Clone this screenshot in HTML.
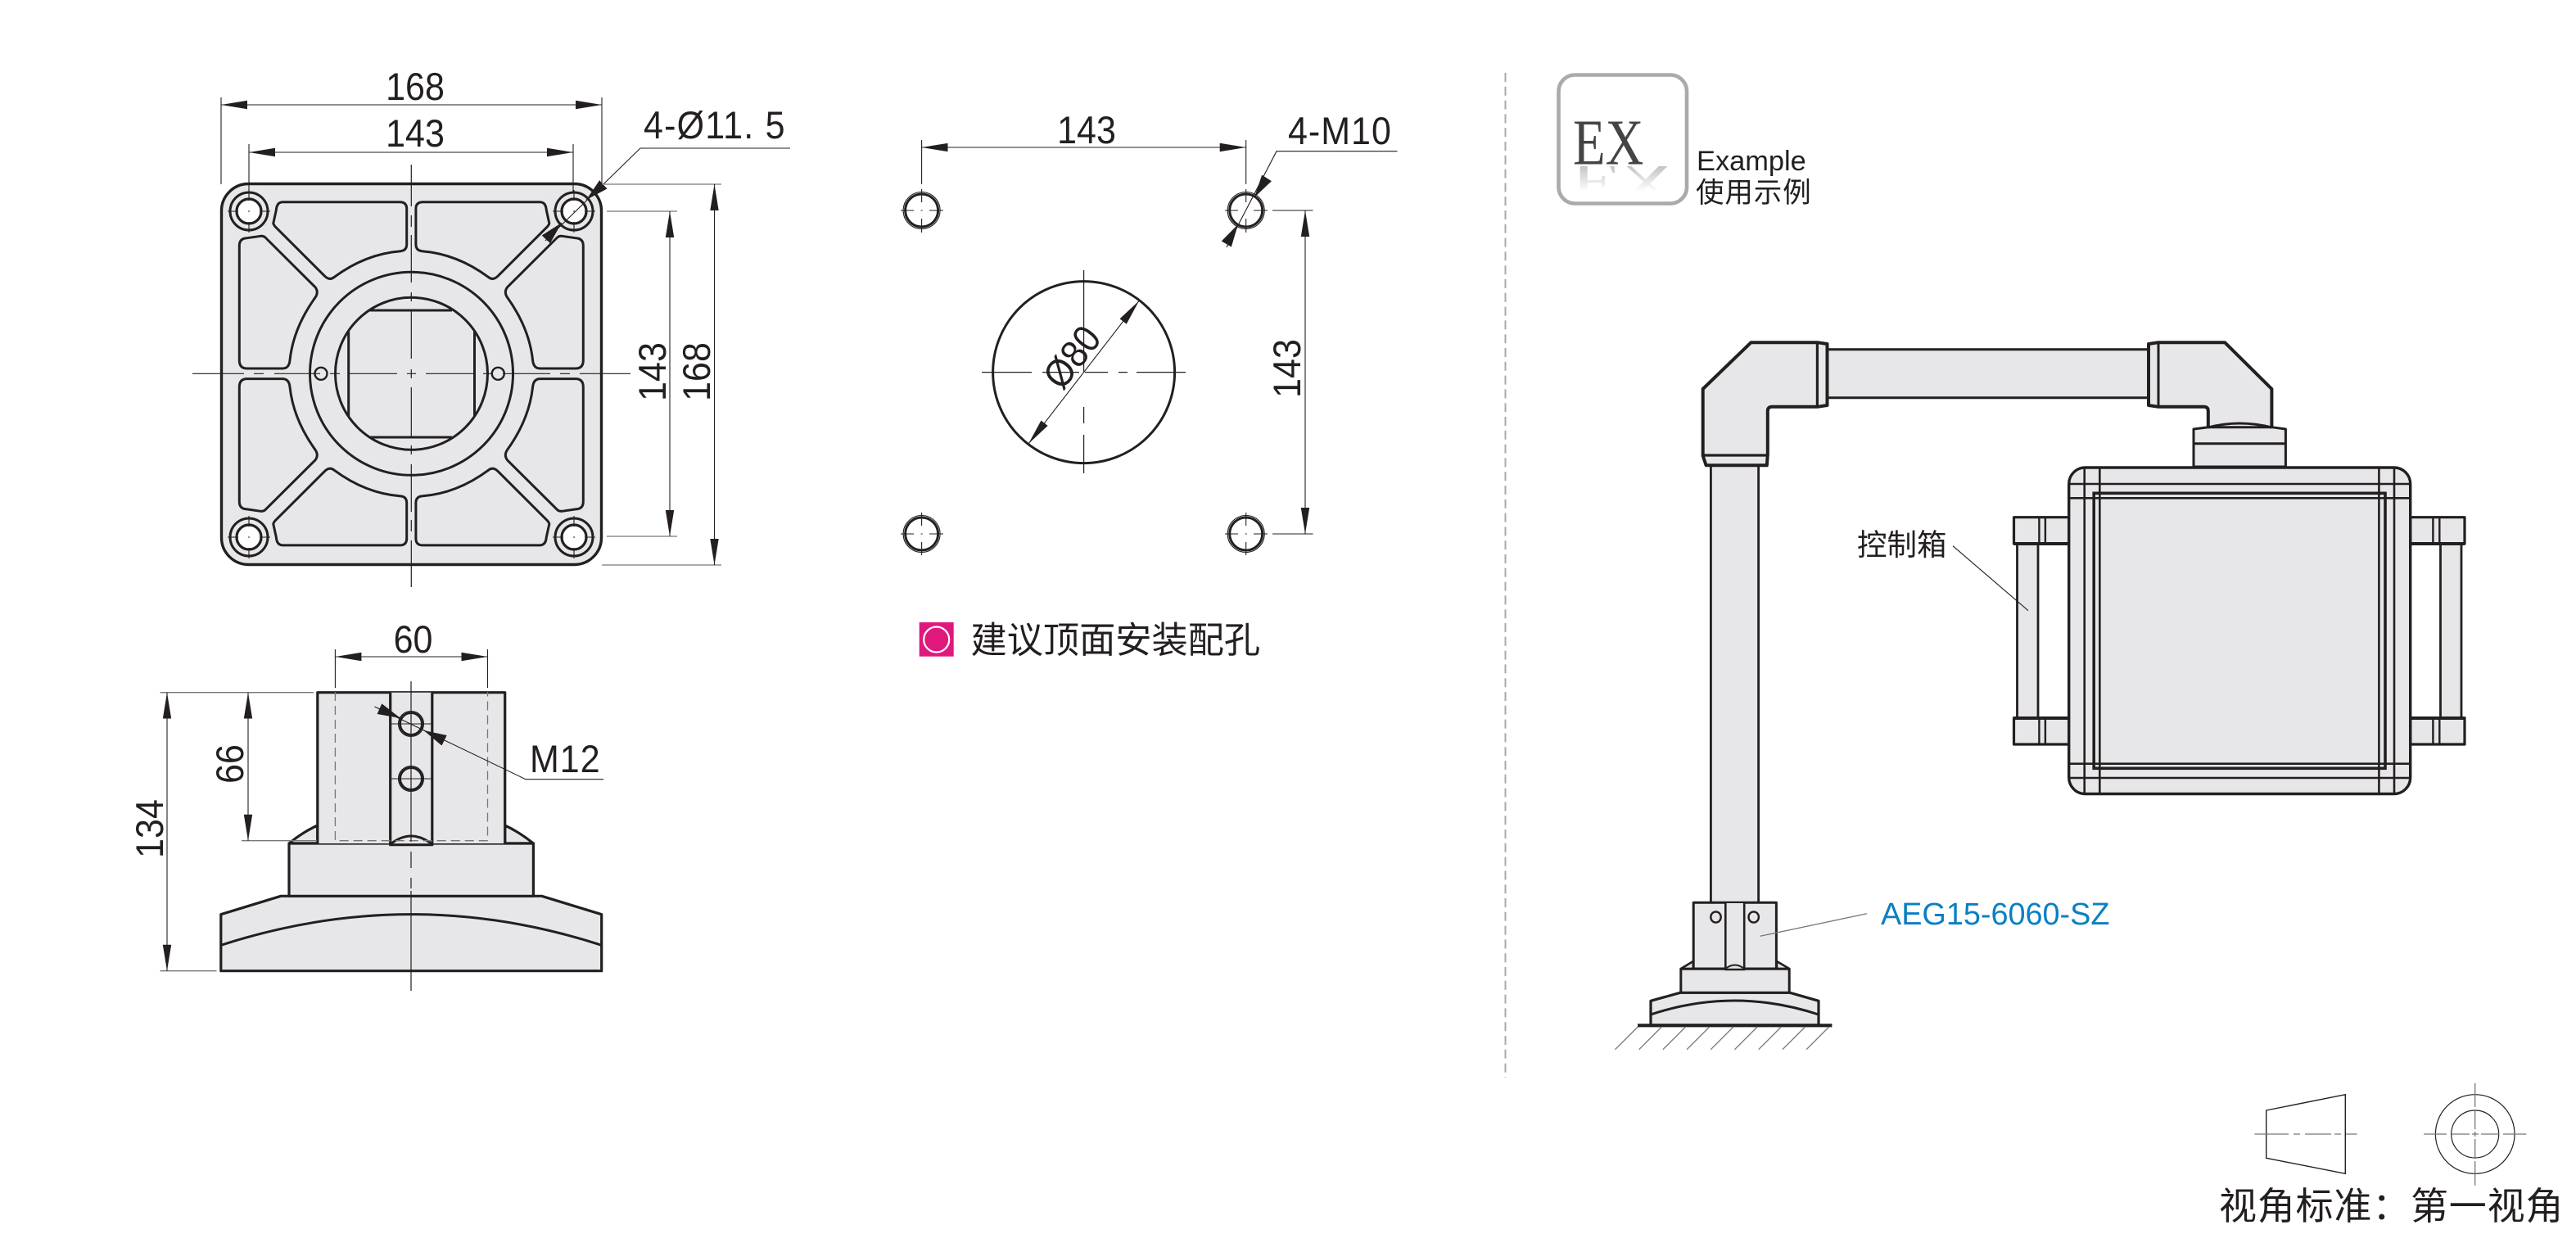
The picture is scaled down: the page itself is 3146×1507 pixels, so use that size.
<!DOCTYPE html>
<html><head><meta charset="utf-8"><style>
html,body{margin:0;padding:0;background:#fff}
svg{display:block}
text{font-family:"Liberation Sans","Noto Sans CJK SC",sans-serif;fill:#231f20}
.k{fill:none;stroke:#231f20;stroke-width:3;stroke-linejoin:round}
.f{fill:#e7e7e9;stroke:#231f20;stroke-width:3.2;stroke-linejoin:round}
.n{fill:none;stroke:#231f20;stroke-width:1.1}
.g{fill:none;stroke:#777;stroke-width:1.3}
.d{fill:none;stroke:#231f20;stroke-width:1.2}
.t{font-size:43px}
</style></head><body>
<svg xmlns="http://www.w3.org/2000/svg" width="3146" height="1507" viewBox="0 0 3146 1507">
<defs>
<marker id="a" markerUnits="userSpaceOnUse" markerWidth="32" markerHeight="12" viewBox="0 0 32 12" refX="32" refY="6" orient="auto-start-reverse"><polygon points="0,0.8 32,6 0,11.2" fill="#231f20"/></marker>
<marker id="b" markerUnits="userSpaceOnUse" markerWidth="28" markerHeight="16" viewBox="0 0 28 16" refX="28" refY="8" orient="auto-start-reverse"><polygon points="0,1 28,8 0,15" fill="#231f20"/></marker>
<linearGradient id="fade" x1="0" y1="0" x2="0" y2="1"><stop offset="0" stop-color="#fff" stop-opacity="0"/><stop offset="1" stop-color="#fff" stop-opacity="1"/></linearGradient>
<g id="pk">
<path class="k" d="M345,246.7H488.3Q496.7,246.7 496.7,255V298.3Q496.7,306 489.3,306.7C460,309 433,320 408.3,338.3Q402.7,343 396.7,337.3L336,276.7Q333,273 334,271.7L337.3,256.7Q338,247 345,246.7Z"/>
<path class="k" d="M301.7,290.7L318.3,288.3Q322,288 324,290L385,350.7Q389.5,356.7 385,363.3C368,387 357,412 354,440Q353,450 345,450H301.7Q292.3,450 292.3,440V300Q292.3,291 301.7,290.7Z"/>
</g>
</defs>

<!-- TOP VIEW PLATE -->
<rect class="f" x="270.5" y="224.5" width="464" height="465" rx="33" style="stroke-width:3.4"/>
<use href="#pk"/>
<use href="#pk" transform="translate(1004.6,0) scale(-1,1)"/>
<use href="#pk" transform="translate(0,912.6) scale(1,-1)"/>
<use href="#pk" transform="translate(1004.6,912.6) scale(-1,-1)"/>
<circle class="k" cx="502.5" cy="456.3" r="124"/>
<circle class="k" cx="502.5" cy="456.3" r="93"/>
<path class="k" d="M425.7,405V508M579.5,405V508M452,379H552M452,534H552"/>
<circle class="k" cx="392" cy="456.3" r="7.5" style="stroke-width:2.4"/>
<circle class="k" cx="608.3" cy="456.3" r="7.5" style="stroke-width:2.4"/>
<g>
<circle class="k" cx="304" cy="258" r="23"/><circle cx="304" cy="258" r="15" fill="#fff" stroke="#231f20" stroke-width="3.2"/>
<circle class="k" cx="701" cy="258" r="23"/><circle cx="701" cy="258" r="15" fill="#fff" stroke="#231f20" stroke-width="3.2"/>
<circle class="k" cx="304" cy="656" r="23"/><circle cx="304" cy="656" r="15" fill="#fff" stroke="#231f20" stroke-width="3.2"/>
<circle class="k" cx="701" cy="656" r="23"/><circle cx="701" cy="656" r="15" fill="#fff" stroke="#231f20" stroke-width="3.2"/>
</g>
<path class="n" d="M278,258H291M317,258H330M303,258H305M304,232V245M304,271V284
M675,258H688M714,258H727M700,258H702M701,232V245M701,271V284
M278,656H291M317,656H330M303,656H305M304,630V643M304,669V682
M675,656H688M714,656H727M700,656H702M701,630V643M701,669V682"/>
<!-- centre lines -->
<path class="d" d="M235,456.3H298M310,456.3H322M335,456.3H391M403,456.3H415M427,456.3H485M497,456.3H508M520,456.3H578M590,456.3H602M614,456.3H672M684,456.3H696M708,456.3H770
M502.3,201V252M502.3,263V277M502.3,287V345M502.3,357V368M502.3,378V438M502.3,451V462M502.3,473V533M502.3,544V555M502.3,567V625M502.3,635V649M502.3,660V717"/>
<!-- dims top view -->
<path class="n" d="M270,119V225M735,119V225M304,176V235M700,176V235"/>
<line class="n" x1="270" y1="128" x2="735" y2="128" marker-start="url(#a)" marker-end="url(#a)"/>
<line class="n" x1="304" y1="186" x2="700" y2="186" marker-start="url(#a)" marker-end="url(#a)"/>
<text class="t" transform="translate(507,122) scale(1,1.1)" text-anchor="middle">168</text>
<text class="t" transform="translate(507,179) scale(1,1.1)" text-anchor="middle">143</text>
<text class="t" transform="translate(786,169) scale(1,1.1)" letter-spacing="1.2">4-Ø11. 5</text>
<path class="n" d="M965,181H782L666,294"/>
<line x1="735" y1="227" x2="716" y2="244" class="n" marker-end="url(#b)"/>
<line x1="669" y1="290" x2="686" y2="272" class="n" marker-end="url(#b)"/>
<path class="g" d="M735,225H881M741,258H827M741,655H827M735,690H881"/>
<line class="n" x1="818" y1="258" x2="818" y2="655" marker-start="url(#a)" marker-end="url(#a)"/>
<line class="n" x1="872.5" y1="225" x2="872.5" y2="690" marker-start="url(#a)" marker-end="url(#a)"/>
<text class="t" transform="translate(813,454) rotate(-90) scale(1,1.1)" text-anchor="middle">143</text>
<text class="t" transform="translate(867,454) rotate(-90) scale(1,1.1)" text-anchor="middle">168</text>

<!-- FRONT VIEW -->
<path class="f" d="M353,1030Q370,1016 387.8,1008V1030ZM651.4,1030Q634,1016 616.7,1008V1030Z"/>
<path class="f" d="M343,1094.3L269.8,1116.7V1185.7H734.7V1116.7L661.6,1094.3Z"/>
<path class="k" d="M269.8,1154.3Q502,1079 734.7,1154.3"/>
<rect class="f" x="353" y="1030" width="298.4" height="64.3"/>
<path class="f" d="M387.8,1030V845.7H616.7V1030"/>
<path class="f" d="M476.7,845.7V1031.7H527.8V845.7"/>
<path class="k" d="M476.7,1031Q502,1011 527.8,1031"/>
<path class="n" d="M476.7,884H527.8M476.7,951H527.8"/>
<circle class="k" cx="502" cy="884" r="13.5"/><circle class="n" cx="502" cy="884" r="15.5"/>
<circle class="k" cx="502" cy="951" r="13.5"/><circle class="n" cx="502" cy="951" r="15.5"/>
<path class="g" stroke-dasharray="11,6" d="M409.4,845V1026.7H595.5V845"/>
<path class="d" d="M502,832V1028M502,1040V1060M502,1072V1085M502,1088V1210"/>
<path class="n" d="M409.4,793V840M595.5,793V840"/>
<line class="n" x1="409.4" y1="802" x2="595.5" y2="802" marker-start="url(#a)" marker-end="url(#a)"/>
<text class="t" transform="translate(504.5,797) scale(1,1.1)" text-anchor="middle">60</text>
<path class="g" d="M195.5,845.7H383M295,1026.7H387M195.5,1185.7H264.5"/>
<line class="n" x1="303" y1="845.7" x2="303" y2="1026.7" marker-start="url(#a)" marker-end="url(#a)"/>
<line class="n" x1="204" y1="845.7" x2="204" y2="1185.7" marker-start="url(#a)" marker-end="url(#a)"/>
<text class="t" transform="translate(297,933) rotate(-90) scale(1,1.1)" text-anchor="middle">66</text>
<text class="t" transform="translate(199,1012) rotate(-90) scale(1,1.1)" text-anchor="middle">134</text>
<path class="n" d="M737,951.7H642L457.5,863"/>
<line class="n" x1="462" y1="865" x2="489" y2="877" marker-end="url(#b)"/>
<line class="n" x1="542" y1="904" x2="517.5" y2="892" marker-end="url(#b)"/>
<text class="t" transform="translate(647,943) scale(1,1.1)" letter-spacing="1">M12</text>

<!-- MOUNTING HOLES -->
<g>
<circle class="k" cx="1125.6" cy="257" r="20"/><circle class="n" cx="1125.6" cy="257" r="22.5"/>
<circle class="k" cx="1521.7" cy="257" r="20"/><circle class="n" cx="1521.7" cy="257" r="22.5"/>
<circle class="k" cx="1125.6" cy="652" r="20"/><circle class="n" cx="1125.6" cy="652" r="22.5"/>
<circle class="k" cx="1521.7" cy="652" r="20"/><circle class="n" cx="1521.7" cy="652" r="22.5"/>
</g>
<path class="n" d="M1100,257H1116M1135,257H1152M1124.6,257H1126.6M1125.6,231V247M1125.6,267V284
M1496,257H1512M1531,257H1548M1521.7,231V247M1521.7,267V284
M1100,652H1116M1135,652H1152M1124.6,652H1126.6M1125.6,626V642M1125.6,662V678
M1496,652H1512M1531,652H1548M1520.7,652H1522.7M1521.7,626V642M1521.7,662V678"/>
<circle class="k" cx="1323.6" cy="454.6" r="111"/>
<path class="d" d="M1199,454.6H1260M1273,454.6H1318M1325,454.6H1353M1366,454.6H1377M1388,454.6H1448M1323.6,330V454M1323.6,497V517M1323.6,531V578"/>
<path class="n" d="M1125.6,171V225M1521.7,171V225M1554,257H1603.5M1554,652H1603.5"/>
<line class="n" x1="1125.6" y1="180" x2="1521.7" y2="180" marker-start="url(#a)" marker-end="url(#a)"/>
<text class="t" transform="translate(1327,175) scale(1,1.1)" text-anchor="middle">143</text>
<text class="t" transform="translate(1573,176) scale(1,1.1)" letter-spacing="1">4-M10</text>
<path class="n" d="M1706.5,184.7H1559L1498,302"/>
<line class="n" x1="1546" y1="219" x2="1532" y2="241" marker-end="url(#b)"/>
<line class="n" x1="1499" y1="296" x2="1512" y2="274" marker-end="url(#b)"/>
<line class="n" x1="1594" y1="257" x2="1594" y2="652" marker-start="url(#a)" marker-end="url(#a)"/>
<text class="t" transform="translate(1588,450) rotate(-90) scale(1,1.1)" text-anchor="middle">143</text>
<line class="n" x1="1256" y1="542" x2="1391.2" y2="367.2" marker-start="url(#a)" marker-end="url(#a)"/>
<text class="t" transform="translate(1322,446) rotate(-52.3) scale(1,1.1)" text-anchor="middle">Ø80</text>

<rect x="1122.7" y="760" width="42" height="41.7" fill="#e0187d"/>
<circle cx="1143.7" cy="781" r="15.5" fill="none" stroke="#fff" stroke-width="2.2"/>
<text x="1185.5" y="797" font-size="44.2">建议顶面安装配孔</text>

<!-- DIVIDER -->
<path d="M1838.5,89V1316" fill="none" stroke="#aaa" stroke-width="2" stroke-dasharray="11,5.8"/>

<!-- EX BADGE -->
<rect x="1903.5" y="91.5" width="156.5" height="157" rx="20" fill="#fff" stroke="#aaa" stroke-width="4.6"/>
<svg x="1915" y="203" width="138" height="30" overflow="hidden">
<text transform="translate(4,-3) scale(1.32,-0.9)" font-size="72" style="font-family:'Liberation Serif',serif;fill:#c4c4c4">EX</text>
</svg>
<rect x="1915" y="203" width="138" height="31" fill="url(#fade)"/>
<text transform="translate(1921,200.7) scale(0.82,1)" font-size="79" style="font-family:'Liberation Serif',serif;fill:#444">EX</text>
<text x="2072" y="208" font-size="34.4">Example</text>
<text x="2071" y="247" font-size="34.5" letter-spacing="0.9">使用示例</text>

<!-- ARM -->
<rect class="f" x="2089.4" y="560" width="58.2" height="545" style="stroke-width:2.8"/>
<rect class="f" x="2220" y="426.7" width="410" height="59" style="stroke-width:3"/>
<path class="f" d="M2138.4,418.3H2220.3L2231.5,420V495L2220.3,496.7H2163.6Q2158.8,497 2158.8,502V555L2157.8,568.3H2083.6L2079.7,556.7V475Z" style="stroke-width:4"/>
<path class="k" d="M2219.4,419V496M2080,556H2158.8" style="stroke-width:3.2"/>
<path class="f" d="M2696.8,524V502Q2696.8,497 2692,496.7H2635.3L2624,495V420L2635.3,418.3H2717.2L2774.4,475V524Z" style="stroke-width:4"/>
<path class="k" d="M2636,419V496"/>
<path class="f" d="M2679,570V524L2696.8,521.7H2774.4L2791.4,524V570Z" style="stroke-width:3"/>
<path class="k" d="M2696.8,522Q2735,512 2774.4,522M2679,541.7H2791.4"/>

<!-- BOX -->
<g>
<rect class="f" x="2459.5" y="631.7" width="67.2" height="32.3"/>
<rect class="f" x="2459.5" y="876.7" width="67.2" height="32.3"/>
<path class="f" d="M2463.5,664V877H2489V664" style="stroke-width:2.8"/>
<path class="k" d="M2490.4,632V664M2497.9,632V664M2490.4,877V909M2497.9,877V909" style="stroke-width:2.4"/>
<path class="k" d="M2459.5,664H2526.7M2459.5,877H2526.7" style="stroke-width:4"/>
<rect class="f" x="2943.7" y="631.7" width="66.3" height="32.3"/>
<rect class="f" x="2943.7" y="876.7" width="66.3" height="32.3"/>
<path class="f" d="M2980.5,664V877H3006V664" style="stroke-width:2.8"/>
<path class="k" d="M2971.4,632V664M2979.3,632V664M2971.4,877V909M2979.3,877V909" style="stroke-width:2.4"/>
<path class="k" d="M2943.7,664H3010M2943.7,877H3010" style="stroke-width:4"/>
<rect class="f" x="2526.7" y="571" width="417" height="398.5" rx="20" style="stroke-width:3.4"/>
<path class="k" style="stroke-width:2.6" d="M2545.7,571V969.5M2564.3,571V969.5M2905.4,571V969.5M2924,571V969.5M2526.7,591H2943.7M2526.7,608.3H2943.7M2526.7,932.7H2943.7M2526.7,950H2943.7"/>
<rect x="2557.2" y="602.3" width="355.8" height="336" fill="none" stroke="#231f20" stroke-width="3.6"/>
</g>
<path class="n" d="M2385,666.7L2477,745.7"/>
<text x="2268" y="678" font-size="36.5">控制箱</text>

<!-- SMALL STAND -->
<path class="f" d="M2052.8,1183L2067.8,1174V1183ZM2185.2,1183L2170,1174V1183Z" style="stroke-width:2.6"/>
<path class="f" d="M2052,1212.3L2016,1222.3V1252H2221V1222.3L2186,1212.3Z"/>
<path class="k" d="M2016,1239Q2118,1205 2221,1239"/>
<rect class="f" x="2052.8" y="1183.3" width="132.4" height="29" style="stroke-width:3"/>
<rect class="f" x="2068.2" y="1102.3" width="101.2" height="80.7" style="stroke-width:3"/>
<path class="f" d="M2107.3,1103V1184H2130.2V1103" style="stroke-width:2.6"/>
<path class="k" d="M2107.3,1183Q2118.7,1174 2130.2,1183" style="stroke-width:2"/>
<ellipse class="k" cx="2095.5" cy="1120" rx="6.2" ry="6.6" style="stroke-width:2.4"/>
<ellipse class="k" cx="2141.7" cy="1120" rx="6.2" ry="6.6" style="stroke-width:2.4"/>
<path d="M2000,1252.3H2237.4" stroke="#231f20" stroke-width="4.2" fill="none"/>
<path class="g" d="M2000.2,1254L1972.5,1281.7M2029.4,1254L2001.7,1281.7M2058.6,1254L2030.9,1281.7M2087.8,1254L2060.1,1281.7M2117,1254L2089.3,1281.7M2146.2,1254L2118.5,1281.7M2175.4,1254L2147.7,1281.7M2204.6,1254L2176.9,1281.7M2233.8,1254L2206.1,1281.7"/>
<path class="g" d="M2149.6,1143.3L2280,1115.7"/>
<text x="2297" y="1129" font-size="37.8" style="fill:#0a7fc4">AEG15-6060-SZ</text>

<!-- VIEW SYMBOL -->
<path d="M2767.7,1356L2864.3,1336.7V1433.3L2767.7,1414.3Z" fill="none" stroke="#231f20" stroke-width="1.4"/>
<circle cx="3022.7" cy="1385" r="48.3" fill="none" stroke="#231f20" stroke-width="1.2"/>
<circle cx="3022.7" cy="1385" r="29" fill="none" stroke="#231f20" stroke-width="1.2"/>
<path class="g" d="M2753.3,1385H2795M2801,1385H2809M2815,1385H2847M2851,1385H2859M2865,1385H2878.7M2960,1385H2988M2994,1385H3016M3019,1385H3027M3030,1385H3052M3057,1385H3085.3M3022.7,1322.7V1352M3022.7,1357V1379M3022.7,1382V1388M3022.7,1391V1413M3022.7,1418V1447.7"/>
<text x="2710" y="1489" font-size="46" letter-spacing="0.8">视角标准：第一视角</text>
</svg>
</body></html>
